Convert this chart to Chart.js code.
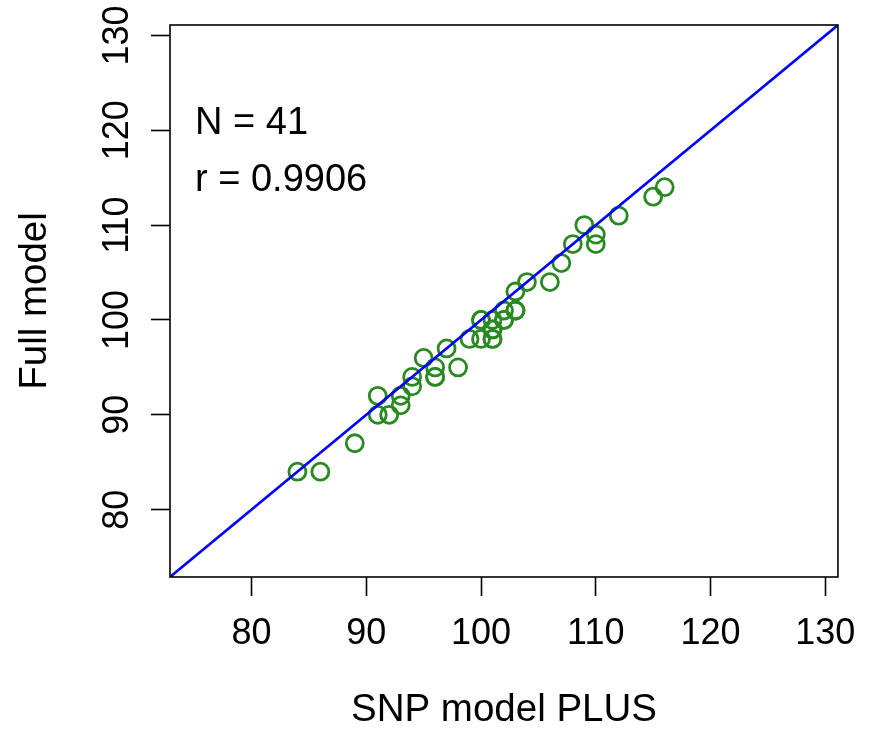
<!DOCTYPE html>
<html>
<head>
<meta charset="utf-8">
<script src="https://cdn.jsdelivr.net/npm/chart.js@4.4.1/dist/chart.umd.min.js"></script>
<style>
  html, body { margin: 0; padding: 0; background: #fff; }
  #wrap { width: 872px; height: 732px; }
</style>
</head>
<body>
<div id="wrap"><canvas id="myChart" width="872" height="732"></canvas></div>
<script>
// values
const snpPlus = [84, 86, 89, 91, 91, 92, 93, 93, 94, 94, 95, 96, 96, 97, 98, 99, 100, 100, 101, 101,
    101, 102, 102, 103, 103, 104, 106, 107, 108, 109, 110, 110, 112, 115, 116,
    100, 101, 102, 96, 101, 103];
const fullModel = [84, 84, 87, 92, 90, 90, 91, 92, 93, 94, 96, 95, 94, 97, 95, 98, 100, 98, 100, 99,
    98, 100, 101, 101, 103, 104, 104, 106, 108, 110, 109, 108, 111, 113, 114,
    100, 99, 100, 94, 98, 101];
const tickValues = [80, 90, 100, 110, 120, 130];
const axisRange = [72.9, 131.1];
const notes = ["N = 41", "r = 0.9906"];

const FONT = "'Liberation Sans', Arial, Helvetica, sans-serif";

const points = snpPlus.map((x, i) => ({ x: x, y: fullModel[i] }));

// box round the plot, rotated y tick labels, and the N / r text
const extras = {
    id: "extras",
    afterDraw(chart) {
        const { ctx, chartArea } = chart;
        const ys = chart.scales.y;
        ctx.save();
        ctx.strokeStyle = "#000";
        ctx.lineWidth = 1.6;
        ctx.strokeRect(chartArea.left, chartArea.top,
            chartArea.right - chartArea.left, chartArea.bottom - chartArea.top);

        ctx.fillStyle = "#000";
        ctx.font = "36px " + FONT;
        ctx.textAlign = "center";
        ctx.textBaseline = "alphabetic";
        tickValues.forEach((v) => {
            const py = ys.getPixelForValue(v);
            ctx.save();
            ctx.translate(128, py);
            ctx.rotate(-Math.PI / 2);
            ctx.fillText(String(v), 0, 0);
            ctx.restore();
        });

        ctx.font = "38px " + FONT;
        ctx.textAlign = "left";
        ctx.fillText(notes[0], chartArea.left + 25, chartArea.top + 109);
        ctx.fillText(notes[1], chartArea.left + 25, chartArea.top + 166);
        ctx.restore();
    },
};

const renderChart = () => {
    const ctx = document.getElementById("myChart");
    new Chart(ctx, {
        type: "scatter",
        data: {
            datasets: [
                {
                    label: "points",
                    data: points,
                    showLine: false,
                    pointRadius: 8.5,
                    pointHoverRadius: 8.5,
                    pointBorderWidth: 2.8,
                    pointBorderColor: "#2a8a22",
                    pointBackgroundColor: "rgba(0,0,0,0)",
                    order: 2,
                },
                {
                    label: "y = x",
                    data: [
                        { x: axisRange[0], y: axisRange[0] },
                        { x: axisRange[1], y: axisRange[1] },
                    ],
                    showLine: true,
                    borderColor: "#0000ff",
                    borderWidth: 2.6,
                    pointRadius: 0,
                    order: 1,
                },
            ],
        },
        options: {
            responsive: false,
            animation: false,
            events: [],
            layout: { padding: { left: 0, right: 34, top: 25, bottom: 0 } },
            plugins: {
                legend: { display: false },
                tooltip: { enabled: false },
            },
            scales: {
                x: {
                    type: "linear",
                    min: axisRange[0],
                    max: axisRange[1],
                    afterBuildTicks: (s) => { s.ticks = tickValues.map((v) => ({ value: v })); },
                    afterFit: (s) => { s.height = 155; },
                    border: { display: false },
                    grid: {
                        drawOnChartArea: false,
                        drawTicks: true,
                        tickLength: 19,
                        tickColor: "#000",
                        tickWidth: 1.6,
                    },
                    ticks: {
                        color: "#000",
                        font: { family: FONT, size: 36 },
                        padding: 16,
                        maxRotation: 0,
                        autoSkip: false,
                    },
                    title: {
                        display: true,
                        text: "SNP model PLUS",
                        color: "#000",
                        font: { family: FONT, size: 38.5, lineHeight: 1.1 },
                        padding: { top: 0, bottom: 0 },
                    },
                },
                y: {
                    type: "linear",
                    min: axisRange[0],
                    max: axisRange[1],
                    afterBuildTicks: (s) => { s.ticks = tickValues.map((v) => ({ value: v })); },
                    afterFit: (s) => { s.width = 170; },
                    border: { display: false },
                    grid: {
                        drawOnChartArea: false,
                        drawTicks: true,
                        tickLength: 19,
                        tickColor: "#000",
                        tickWidth: 1.6,
                    },
                    ticks: {
                        display: false,
                    },
                    title: {
                        display: true,
                        text: "Full model",
                        color: "#000",
                        font: { family: FONT, size: 38.5, lineHeight: 1.1 },
                        padding: { top: 14, bottom: 0 },
                    },
                },
            },
        },
        plugins: [extras],
    });
};

renderChart();
</script>
</body>
</html>
